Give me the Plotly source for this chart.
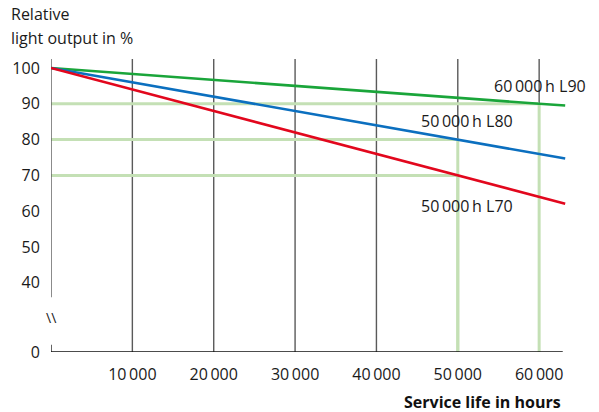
import plotly.graph_objects as go

# ---- data ----
hours = [0, 10000, 20000, 30000, 40000, 50000, 60000, 63200]
l90_values = [100, 98.3, 96.7, 95.0, 93.3, 91.7, 90.0, 89.5]
l80_values = [100, 96.0, 92.0, 88.0, 84.0, 80.0, 76.0, 74.7]
l70_values = [100, 94.0, 88.0, 82.0, 76.0, 70.0, 64.0, 62.1]

x_ticks = [10000, 20000, 30000, 40000, 50000, 60000]
x_tick_labels = ["10\u2009000", "20\u2009000", "30\u2009000", "40\u2009000", "50\u2009000", "60\u2009000"]
y_zero_pos = 20.7  # position where the broken axis shows "0"
y_ticks = [y_zero_pos, 40, 50, 60, 70, 80, 90, 100]
y_tick_labels = ["0", "40", "50", "60", "70", "80", "90", "100"]

ref_levels = [90, 80, 70]
ref_hours = [60000, 50000, 50000]
labels = ["60\u2009000\u2009h L90", "50\u2009000\u2009h L80", "50\u2009000\u2009h L70"]

GREEN = "#1aa53a"
BLUE = "#0b6fbf"
RED = "#e2071d"
LIGHT = "#c4e0b5"
GRID = "#5a5a5a"
TXT = "#1a1a1a"
FONT = "Open Sans"
FS = 16

x_max = 63300
y_top = 102.5

fig = go.Figure()
for vals, col in [(l90_values, GREEN), (l80_values, BLUE), (l70_values, RED)]:
    fig.add_trace(go.Scatter(x=hours, y=vals, mode="lines",
                             line=dict(color=col, width=2.6), showlegend=False,
                             hoverinfo="skip"))

shapes = []
for xv in x_ticks:
    shapes.append(dict(type="line", x0=xv, x1=xv, y0=y_zero_pos, y1=y_top,
                       line=dict(color=GRID, width=1.4), layer="below"))
for lvl, hx in zip(ref_levels, ref_hours):
    shapes.append(dict(type="line", x0=0, x1=hx, y0=lvl, y1=lvl,
                       line=dict(color=LIGHT, width=3), layer="below"))
    shapes.append(dict(type="line", x0=hx, x1=hx, y0=y_zero_pos, y1=lvl,
                       line=dict(color=LIGHT, width=3), layer="below"))
shapes.append(dict(type="line", x0=0, x1=0, y0=36, y1=y_top,
                   line=dict(color=GRID, width=1.4), layer="below"))
shapes.append(dict(type="line", x0=0, x1=0, y0=y_zero_pos, y1=22.7,
                   line=dict(color="#222", width=1.4), layer="below"))
shapes.append(dict(type="line", x0=0, x1=62900, y0=y_zero_pos, y1=y_zero_pos,
                   line=dict(color="#111", width=1.6), layer="above"))

annotations = []
annotations.append(dict(x=54150, y=95.0, text=labels[0], showarrow=False,
                        xanchor="left", yanchor="middle", font=dict(size=FS, color=TXT, family=FONT)))
annotations.append(dict(x=45250, y=85.2, text=labels[1], showarrow=False,
                        xanchor="left", yanchor="middle", font=dict(size=FS, color=TXT, family=FONT)))
annotations.append(dict(x=45250, y=61.4, text=labels[2], showarrow=False,
                        xanchor="left", yanchor="middle", font=dict(size=FS, color=TXT, family=FONT)))
annotations.append(dict(x=0, y=30.4, xshift=0, text="\\\\", showarrow=False,
                        xanchor="center", yanchor="middle", font=dict(size=14, color=TXT, family=FONT)))
annotations.append(dict(xref="paper", yref="paper", x=-0.081, y=1.1536, text="Relative",
                        showarrow=False, xanchor="left", yanchor="middle",
                        font=dict(size=FS, color=TXT, family=FONT)))
annotations.append(dict(xref="paper", yref="paper", x=-0.081, y=1.0717, text="light output in %",
                        showarrow=False, xanchor="left", yanchor="middle",
                        font=dict(size=FS, color=TXT, family=FONT)))
annotations.append(dict(xref="paper", yref="paper", x=0.995, y=-0.172, text="<b>Service life in hours</b>",
                        showarrow=False, xanchor="right", yanchor="middle",
                        font=dict(size=FS, color="#111", family=FONT)))

fig.update_layout(
    width=599, height=412,
    margin=dict(l=48, r=599 - 48 - 518, t=59, b=60),
    plot_bgcolor="white", paper_bgcolor="white",
    shapes=shapes, annotations=annotations,
    xaxis=dict(range=[0, x_max], tickvals=x_ticks, ticktext=x_tick_labels,
               showgrid=False, zeroline=False, showline=False,
               ticks="outside", ticklen=8, tickcolor="rgba(0,0,0,0)",
               tickfont=dict(size=FS, color=TXT, family=FONT)),
    yaxis=dict(range=[y_zero_pos, y_top], tickvals=y_ticks, ticktext=y_tick_labels,
               showgrid=False, zeroline=False, showline=False,
               ticks="outside", ticklen=7, tickcolor="rgba(0,0,0,0)",
               tickfont=dict(size=FS, color=TXT, family=FONT)),
)

fig.write_html("out.html", config={"displayModeBar": False},
               post_script="document.body.style.margin='0';document.body.style.overflow='hidden';")
